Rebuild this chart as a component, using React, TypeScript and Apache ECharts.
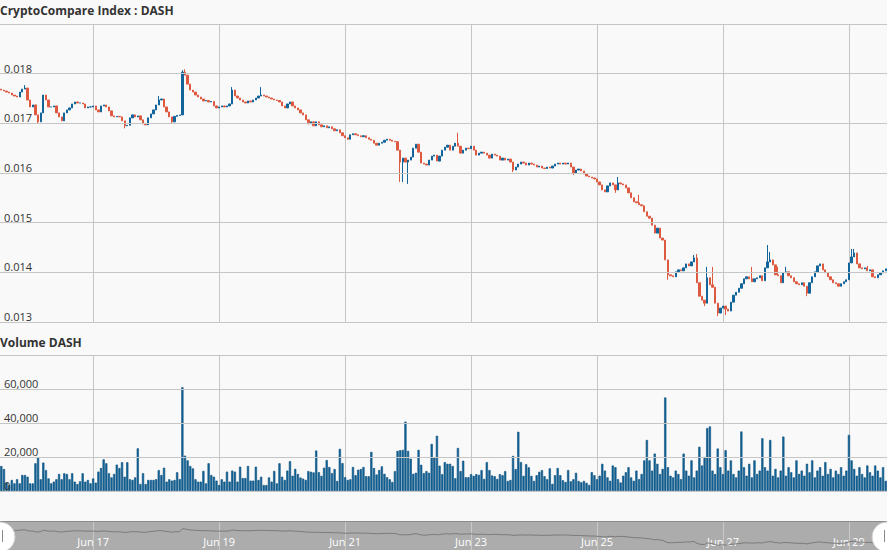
import React, { useEffect, useRef } from 'react';
import * as echarts from 'echarts';

// ---- data ----
const MONTHS = ['Jan', 'Feb', 'Mar', 'Apr', 'May', 'Jun', 'Jul', 'Aug', 'Sep', 'Oct', 'Nov', 'Dec'];
const START_UTC = Date.UTC(2019, 5, 15, 13); // first hourly candle: Jun 15 13:00
const HOURS = 338;
const categories: string[] = [];
for (let i = 0; i < HOURS; i++) {
  const d = new Date(START_UTC + i * 3600000);
  categories.push(`${MONTHS[d.getUTCMonth()]} ${d.getUTCDate()} ${String(d.getUTCHours()).padStart(2, '0')}:00`);
}

const firstOpen = 0.01769;

const closes: number[] = [
  0.01767, 0.01765, 0.01763, 0.01761, 0.01757, 0.01755, 0.01753, 0.01763, 0.01769, 0.01771,
  0.01747, 0.01733, 0.01737, 0.01717, 0.01703, 0.01721, 0.01757, 0.01747, 0.01733, 0.01733,
  0.01735, 0.01721, 0.01713, 0.01705, 0.01721, 0.01727, 0.01731, 0.01739, 0.01743, 0.01741,
  0.01741, 0.01739, 0.01731, 0.01733, 0.01733, 0.01735, 0.01727, 0.01723, 0.01735, 0.01737,
  0.01733, 0.01725, 0.01715, 0.01713, 0.01714, 0.01713, 0.01705, 0.01695, 0.01696, 0.01711,
  0.01717, 0.01713, 0.01715, 0.01707, 0.01699, 0.01697, 0.01711, 0.01719, 0.01727, 0.01737,
  0.01747, 0.01749, 0.01733, 0.01723, 0.01713, 0.01703, 0.01714, 0.01716, 0.01717, 0.01803,
  0.01797, 0.01779, 0.01767, 0.01763, 0.01757, 0.01753, 0.01749, 0.01745, 0.01746, 0.01743,
  0.01744, 0.01735, 0.01731, 0.01733, 0.01735, 0.01733, 0.01735, 0.01739, 0.01767, 0.01755,
  0.01751, 0.01747, 0.01743, 0.01741, 0.01745, 0.01743, 0.01747, 0.01751, 0.01755, 0.01757,
  0.01755, 0.01753, 0.01751, 0.01749, 0.01747, 0.01746, 0.01743, 0.01735, 0.01731, 0.01739,
  0.01743, 0.01735, 0.01731, 0.01727, 0.01721, 0.01717, 0.01707, 0.01699, 0.01703, 0.01695,
  0.01703, 0.01697, 0.01693, 0.01695, 0.01691, 0.01693, 0.01689, 0.01685, 0.01687, 0.01681,
  0.01675, 0.01671, 0.01668, 0.01677, 0.01679, 0.01677, 0.01675, 0.01673, 0.01675, 0.01671,
  0.01668, 0.01666, 0.01660, 0.01656, 0.01660, 0.01662, 0.01666, 0.01668, 0.01666, 0.01664,
  0.01663, 0.01646, 0.01622, 0.01630, 0.01622, 0.01626, 0.01632, 0.01650, 0.01658, 0.01642,
  0.01620, 0.01618, 0.01616, 0.01626, 0.01634, 0.01636, 0.01624, 0.01634, 0.01646, 0.01652,
  0.01656, 0.01646, 0.01654, 0.01660, 0.01654, 0.01640, 0.01646, 0.01650, 0.01649, 0.01654,
  0.01646, 0.01636, 0.01640, 0.01642, 0.01640, 0.01636, 0.01630, 0.01638, 0.01636, 0.01634,
  0.01626, 0.01630, 0.01626, 0.01628, 0.01622, 0.01606, 0.01612, 0.01618, 0.01622, 0.01620,
  0.01616, 0.01620, 0.01618, 0.01616, 0.01612, 0.01614, 0.01610, 0.01609, 0.01612, 0.01610,
  0.01614, 0.01618, 0.01620, 0.01618, 0.01620, 0.01618, 0.01620, 0.01612, 0.01600, 0.01606,
  0.01608, 0.01604, 0.01598, 0.01594, 0.01592, 0.01590, 0.01588, 0.01582, 0.01576, 0.01566,
  0.01562, 0.01574, 0.01580, 0.01576, 0.01566, 0.01580, 0.01578, 0.01576, 0.01570, 0.01560,
  0.01550, 0.01542, 0.01540, 0.01536, 0.01534, 0.01522, 0.01513, 0.01509, 0.01495, 0.01479,
  0.01489, 0.01469, 0.01465, 0.01425, 0.01395, 0.01393, 0.01391, 0.01401, 0.01405, 0.01403,
  0.01409, 0.01417, 0.01413, 0.01421, 0.01429, 0.01379, 0.01352, 0.01344, 0.01338, 0.01389,
  0.01375, 0.01370, 0.01338, 0.01318, 0.01328, 0.01332, 0.01326, 0.01322, 0.01340, 0.01354,
  0.01360, 0.01368, 0.01377, 0.01387, 0.01391, 0.01387, 0.01381, 0.01387, 0.01389, 0.01393,
  0.01383, 0.01409, 0.01421, 0.01425, 0.01415, 0.01395, 0.01393, 0.01379, 0.01399, 0.01401,
  0.01393, 0.01389, 0.01381, 0.01377, 0.01375, 0.01379, 0.01372, 0.01358, 0.01379, 0.01391,
  0.01401, 0.01413, 0.01417, 0.01405, 0.01399, 0.01391, 0.01385, 0.01379, 0.01377, 0.01372,
  0.01377, 0.01381, 0.01385, 0.01419, 0.01431, 0.01439, 0.01417, 0.01409, 0.01407, 0.01409,
  0.01403, 0.01405, 0.01391, 0.01389, 0.01395, 0.01399, 0.01403, 0.01407,
];

// notable wick extremes: [index, high]
const wickHighs: [number, number][] = [
  [9, 0.01777], [60, 0.01755], [69, 0.01807], [70, 0.01809], [88, 0.01773], [99, 0.01773],
  [174, 0.01681], [235, 0.01592], [243, 0.01556], [264, 0.01435], [265, 0.01437],
  [269, 0.01411], [271, 0.01411], [286, 0.01411], [292, 0.01455], [293, 0.01441],
  [296, 0.01411], [299, 0.01411], [324, 0.01447], [325, 0.01447], [330, 0.01413],
];
// notable wick extremes: [index, low]
const wickLows: [number, number][] = [
  [14, 0.01699], [47, 0.01690], [65, 0.01699], [152, 0.01582], [153, 0.01582], [155, 0.01578],
  [195, 0.01602], [218, 0.01596], [234, 0.01560], [254, 0.01385], [268, 0.01332],
  [273, 0.01312], [276, 0.01314], [307, 0.01352],
];

const volumes: number[] = [
  14700, 12900, 4900, 3500, 6500, 4500, 6900, 4500, 9400, 9400,
  8400, 4500, 4500, 16300, 19800, 6900, 16700, 12300, 7400, 4500,
  5500, 6900, 10000, 6900, 10400, 10000, 6900, 10400, 5500, 4100,
  5700, 10400, 5500, 6500, 4500, 7400, 4900, 11400, 13500, 18600,
  16300, 10400, 8000, 10000, 15500, 13500, 16900, 8400, 16900, 6900,
  6500, 8000, 25100, 4100, 10400, 4100, 6500, 6500, 6500, 6900,
  12300, 9400, 13700, 5500, 6900, 6100, 6500, 11000, 7000, 61000,
  20800, 18000, 14700, 13300, 6900, 5500, 5500, 11800, 4500, 16300,
  9400, 8400, 6100, 3500, 6900, 5500, 11400, 5500, 12000, 11400,
  5500, 14300, 7600, 7600, 14700, 6100, 6100, 14300, 6500, 8400,
  3500, 3500, 8000, 5500, 11800, 4500, 16300, 8400, 6500, 12000,
  17500, 9000, 13000, 10000,
  7900, 7300, 6500, 11700, 11300, 10900,
  23800, 11100, 8900, 13700, 18200, 14100, 10500, 12900, 5900, 24800,
  16400, 8100, 6500, 6900, 14100, 9300, 12500, 12900, 14100, 8700,
  8700, 23000, 13500, 9700, 12300, 14500, 10100, 8100, 6900, 5300,
  11700, 23600, 24000, 24200, 40800, 23600, 19000, 10100, 10700, 24200,
  15400, 10500, 11700, 10700, 27700, 19600, 32500, 14900, 9900, 17000,
  16000, 16000, 14700, 7500, 25300, 11700, 17800, 8100, 8100, 9900,
  8900, 9900, 9500, 12300, 7100, 17000, 12300, 9100, 8700, 7100,
  9900, 9300, 11700, 5900, 6500, 20600, 12900, 34800, 17000, 8900,
  15800, 13900, 8900, 5900, 9300, 11300, 12300, 8700, 6900, 13300,
  4200, 9300, 13500, 9300, 6300, 5300, 12300, 5700, 6900, 10700,
  5900, 5100, 5900, 4800, 3600, 11100, 9300, 6900,
  9000, 16000, 12000, 8000, 6000, 15000, 14000, 7000, 5000, 9000,
  11000, 14000, 8000, 6000, 12000, 7000, 10000, 18000, 30000, 18000,
  12000, 22000, 16000, 10000, 13000, 55000, 14000, 9000, 8000, 12000,
  10000, 7000, 22000, 12000, 9000, 18000, 8000, 12000, 26000, 15000,
  20000, 37000, 38000, 12000, 10000, 25000, 14000, 10000, 24000, 12000,
  18000, 10000, 8000, 12000, 35000, 14000, 9000, 16000, 8000, 18000,
  10000, 12000, 31000, 14000, 12000, 30000, 9000, 13000, 8000, 12000,
  32000, 9000, 14000, 11000, 8000, 18000, 10000, 12000, 9000, 16000,
  11000, 18000, 8000, 12000, 14000, 9000, 17000, 10000, 13000, 8000,
  12000, 10000, 14000, 9000, 12000, 33000, 18000, 13000, 9000, 14000,
  10000, 8000, 15000, 11000, 9000, 15000, 12000, 8000, 14000, 6000,
];

const priceTicks = { min: 0.013, max: 0.019, interval: 0.001 };
const volumeTicks = { min: 0, max: 80000, interval: 20000 };

// ---- styles ----
const UP = '#11659a';
const DOWN = '#dd5a41';
const GRID_LINE = '#c6c6c6';
const TEXT = '#333333';
const FONT = 'Open Sans';

const isDayStart = (index: number) => categories[index].endsWith(' 00:00') && Number(categories[index].split(' ')[1]) % 2 === 1;

export default function App() {
  const ref = useRef<HTMLDivElement>(null);

  useEffect(() => {
    if (!ref.current) return;
    const chart = echarts.init(ref.current, undefined, { renderer: 'svg' });

    const highMap = new Map(wickHighs);
    const lowMap = new Map(wickLows);
    const ohlc = closes.map((c, i) => {
      const o = i === 0 ? firstOpen : closes[i - 1];
      const hi = Math.max(o, c, highMap.get(i) ?? 0);
      const lo = Math.min(o, c, lowMap.get(i) ?? 1);
      return [o, c, lo, hi];
    });
    const volData = volumes.map((v) => ({ value: v }));

    const splitX = {
      show: true,
      interval: (idx: number) => isDayStart(idx),
      alignWithLabel: true,
      lineStyle: { color: GRID_LINE, width: 1 },
    } as any;

    chart.setOption({
      animation: false,
      backgroundColor: '#f9f9f9',
      textStyle: { fontFamily: FONT },
      title: [
        {
          text: 'CryptoCompare Index : DASH',
          left: 0,
          top: 4,
          padding: 0,
          textStyle: { fontSize: 12, fontWeight: 'bold', color: TEXT, fontFamily: FONT },
        },
        {
          text: 'Volume DASH',
          left: 0,
          top: 336,
          padding: 0,
          textStyle: { fontSize: 12, fontWeight: 'bold', color: TEXT, fontFamily: FONT },
        },
      ],
      grid: [
        { left: 0, right: 0, top: 24, height: 298 },
        { left: 0, right: 0, top: 355, height: 136 },
        { left: 0, right: 0, top: 522, height: 28, show: true, backgroundColor: '#acacac', borderWidth: 0 },
      ],
      xAxis: [0, 1, 2].map((g) => ({
        type: 'category',
        gridIndex: g,
        data: categories,
        boundaryGap: true,
        axisLine: { show: false },
        axisTick: { show: false, alignWithLabel: true },
        axisLabel:
          g === 2
            ? {
                show: true,
                inside: true,
                margin: 3,
                interval: (idx: number) => isDayStart(idx),
                formatter: (v: string) => v.split(' ').slice(0, 2).join(' '),
                color: '#ffffff',
                fontSize: 11,
                fontFamily: FONT,
              }
            : { show: false },
        splitLine:
          g === 2
            ? { ...splitX, lineStyle: { color: 'rgba(255,255,255,0.35)', width: 1 } }
            : splitX,
      })),
      yAxis: [
        {
          type: 'value',
          gridIndex: 0,
          ...priceTicks,
          z: 5,
          axisLine: { show: false },
          axisTick: { show: false },
          splitLine: { show: true, lineStyle: { color: GRID_LINE, width: 1 } },
          axisLabel: {
            inside: true,
            margin: 4,
            align: 'left',
            verticalAlign: 'bottom',
            showMaxLabel: false,
            color: TEXT,
            fontSize: 11,
            fontFamily: FONT,
            formatter: (v: number) => v.toFixed(3),
          },
        },
        {
          type: 'value',
          gridIndex: 1,
          ...volumeTicks,
          z: 5,
          axisLine: { show: false },
          axisTick: { show: false },
          splitLine: { show: true, lineStyle: { color: GRID_LINE, width: 1 } },
          axisLabel: {
            inside: true,
            margin: 4,
            align: 'left',
            verticalAlign: 'bottom',
            showMaxLabel: false,
            color: TEXT,
            fontSize: 11,
            fontFamily: FONT,
            formatter: (v: number) => v.toLocaleString('en-US'),
          },
        },
        {
          type: 'value',
          gridIndex: 2,
          min: 0.0118,
          max: 0.02,
          show: false,
          splitLine: { show: false },
        },
      ],
      series: [
        {
          type: 'candlestick',
          xAxisIndex: 0,
          yAxisIndex: 0,
          data: ohlc,
          barWidth: 1.8,
          itemStyle: {
            color: UP,
            color0: DOWN,
            borderColor: UP,
            borderColor0: DOWN,
            borderWidth: 1,
          },
        },
        {
          type: 'bar',
          xAxisIndex: 1,
          yAxisIndex: 1,
          data: volData,
          barWidth: 2.2,
          itemStyle: { color: UP, borderColor: '#0b4f7c', borderWidth: 0.6 },
        },
        {
          type: 'line',
          xAxisIndex: 2,
          yAxisIndex: 2,
          data: closes,
          symbol: 'none',
          lineStyle: { color: '#7a7a7a', width: 1 },
        },
      ],
      graphic: [
        { type: 'line', z: 10, shape: { x1: 0, y1: 521.5, x2: 887, y2: 521.5 }, style: { stroke: '#8a8a8a', lineWidth: 1 } },
        { type: 'circle', z: 11, shape: { cx: 0, cy: 537, r: 15 }, style: { fill: '#ffffff', stroke: '#cccccc', lineWidth: 1 } },
        { type: 'rect', z: 12, shape: { x: 2, y: 530, width: 1, height: 12 }, style: { fill: '#888888' } },
        { type: 'circle', z: 11, shape: { cx: 887, cy: 537, r: 15 }, style: { fill: '#ffffff', stroke: '#cccccc', lineWidth: 1 } },
        { type: 'rect', z: 12, shape: { x: 884, y: 530, width: 1, height: 12 }, style: { fill: '#888888' } },
      ],
    });

    return () => chart.dispose();
  }, []);

  return (
    <div
      ref={ref}
      style={{ position: 'fixed', left: 0, top: 0, width: 887, height: 550 }}
    />
  );
}
